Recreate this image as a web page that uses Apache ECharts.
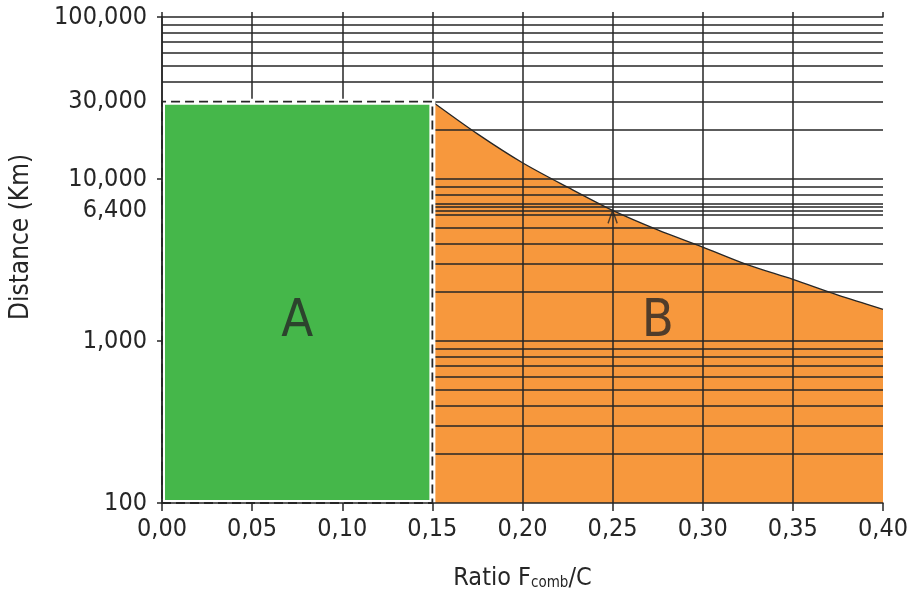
<!DOCTYPE html>
<html>
<head>
<meta charset="utf-8">
<script src="https://cdn.jsdelivr.net/npm/echarts@6/dist/echarts.min.js"></script>
<style>
html,body{margin:0;padding:0;background:#fff;overflow:hidden;}
#c{width:910px;height:591px;}
</style>
</head>
<body>
<div id="c"></div>
<script>
// ---- data ----
var xTickValues = [0, 0.05, 0.10, 0.15, 0.20, 0.25, 0.30, 0.35, 0.40];
var yDecades = [100, 1000, 10000, 100000];
var yExtraLabels = [30000, 6400];
var curveX = [0.15, 0.175, 0.20, 0.225, 0.25, 0.275, 0.30, 0.325, 0.35, 0.375, 0.40];
var curveD = [30000, 19000, 12600, 8900, 6400, 4850, 3800, 2950, 2400, 1920, 1570];
var zoneA = {x0: 0, x1: 0.15, d0: 100, d1: 30000};
var gridY = [200,300,400,500,600,700,800,900,
             1000,2000,3000,4000,5000,6000,6400,6700,7000,8000,9000,
             10000,20000,30000,40000,50000,60000,70000,80000,90000];
var gridX = [0.05, 0.10, 0.15, 0.20, 0.25, 0.30, 0.35];
var arrowPoint = [0.25, 6400];
var regionNames = ['A', 'B'];
var regionX = [0.075, 0.275];
var regionY = [1300, 1300];

var FONT = "'DejaVu Sans Condensed', 'DejaVu Sans', sans-serif";
var INK = '#262626';
var GREEN = '#45b74a';
var ORANGE = '#f7983d';

function fmtThousands(v){ return Math.round(v).toString().replace(/\B(?=(\d{3})+(?!\d))/g, ','); }

var gridLines = [];
gridY.forEach(function(v){
  var item = {yAxis: v};
  if (yExtraLabels.indexOf(v) >= 0) {
    item.label = {show: true, position: 'start', distance: 15, formatter: fmtThousands(v),
      fontFamily: FONT, fontSize: 25, color: INK};
  }
  gridLines.push(item);
});
gridX.forEach(function(v){ gridLines.push({xAxis: v}); });

var chart = echarts.init(document.getElementById('c'), null, {renderer: 'canvas', width: 910, height: 591});
chart.setOption({
  animation: false,
  backgroundColor: '#fff',
  grid: {left: 162, right: 27, top: 17, bottom: 88, containLabel: false, outerBoundsMode: 'none'},
  xAxis: [{
    type: 'value', min: 0, max: 0.4, interval: 0.05, z: 10,
    name: '{a|Ratio F}{b|comb}{a|/C}',
    nameLocation: 'middle', nameGap: 58,
    nameTextStyle: {
      rich: {
        a: {fontFamily: FONT, fontSize: 25, color: INK, verticalAlign: 'bottom', lineHeight: 30},
        b: {fontFamily: FONT, fontSize: 15, color: INK, verticalAlign: 'bottom', lineHeight: 6}
      }
    },
    axisLine: {show: true, lineStyle: {color: INK, width: 1.5}},
    axisTick: {show: true, length: 8, lineStyle: {color: INK, width: 1.5}},
    axisLabel: {fontFamily: FONT, fontSize: 25, color: INK, margin: 14,
      formatter: function(v){ return v.toFixed(2).replace('.', ','); }},
    splitLine: {show: false}
  }, {
    type: 'value', min: 0, max: 0.4, interval: 0.05, position: 'top', z: 10,
    axisLine: {show: true, lineStyle: {color: INK, width: 1.5}},
    axisTick: {show: true, length: 5, lineStyle: {color: INK, width: 1.5}},
    axisLabel: {show: false}, splitLine: {show: false}
  }],
  yAxis: [{
    type: 'log', logBase: 10, min: 100, max: 100000, z: 10,
    name: 'Distance (Km)', nameLocation: 'middle', nameGap: 128, nameRotate: 90,
    nameTextStyle: {fontFamily: FONT, fontSize: 26, color: INK, padding: [0, 0, 0, 46]},
    axisLine: {show: true, lineStyle: {color: INK, width: 1.5}},
    axisTick: {show: true, length: 5, lineStyle: {color: INK, width: 1.5}},
    axisLabel: {fontFamily: FONT, fontSize: 25, color: INK, margin: 15,
      formatter: function(v){ return yDecades.indexOf(Math.round(v)) >= 0 ? fmtThousands(v) : ''; }},
    splitLine: {show: false}, minorTick: {show: false}
  }, {
    type: 'log', logBase: 10, min: 100, max: 100000, position: 'right', z: 10,
    axisLine: {show: true, lineStyle: {color: INK, width: 1.5}},
    axisTick: {show: false}, axisLabel: {show: false}, splitLine: {show: false}
  }],
  series: [
    {
      name: 'B', type: 'line', z: 1, xAxisIndex: 0, yAxisIndex: 0,
      data: curveX.map(function(x, i){ return [x, curveD[i]]; }),
      showSymbol: false, symbol: 'none', smooth: 0.3,
      lineStyle: {color: INK, width: 1.3},
      areaStyle: {color: ORANGE, opacity: 1, origin: 'start'}
    },
    {
      name: 'grid', type: 'line', z: 2, data: [],
      markLine: {
        z: 2,
        silent: true, symbol: ['none', 'none'], animation: false,
        label: {show: false},
        lineStyle: {color: INK, width: 1.5, type: 'solid'},
        emphasis: {disabled: true},
        data: gridLines
      }
    },
    {
      name: 'A', type: 'line', z: 3, data: [],
      markArea: {
        z: 3,
        silent: true,
        itemStyle: {color: GREEN, borderColor: '#ffffff', borderWidth: 6},
        data: [[{xAxis: zoneA.x0, yAxis: zoneA.d0}, {xAxis: zoneA.x1, yAxis: zoneA.d1}]]
      }
    },
    {
      name: 'Aborder', type: 'line', z: 4, data: [],
      markArea: {
        z: 4,
        silent: true,
        itemStyle: {color: 'rgba(0,0,0,0)', borderColor: INK, borderWidth: 1.8, borderType: [9, 5]},
        data: [[{xAxis: zoneA.x0, yAxis: zoneA.d0}, {xAxis: zoneA.x1, yAxis: zoneA.d1}]]
      }
    },
    {
      name: 'arrow', type: 'scatter', z: 5,
      data: [arrowPoint],
      symbol: 'path://M0,12 L5,0 L10,12', symbolSize: [11, 13], symbolOffset: [0, 6.5],
      symbolKeepAspect: true,
      itemStyle: {color: 'rgba(0,0,0,0)', borderColor: INK, borderWidth: 1.5},
      silent: true
    },
    {
      name: 'labels', type: 'scatter', z: 6,
      data: regionNames.map(function(n, i){ return {name: n, value: [regionX[i], regionY[i]]}; }),
      symbolSize: 0, silent: true,
      label: {show: true, position: 'inside', formatter: '{b}', fontFamily: FONT, fontSize: 52, color: INK}
    }
  ]
});
</script>
</body>
</html>
